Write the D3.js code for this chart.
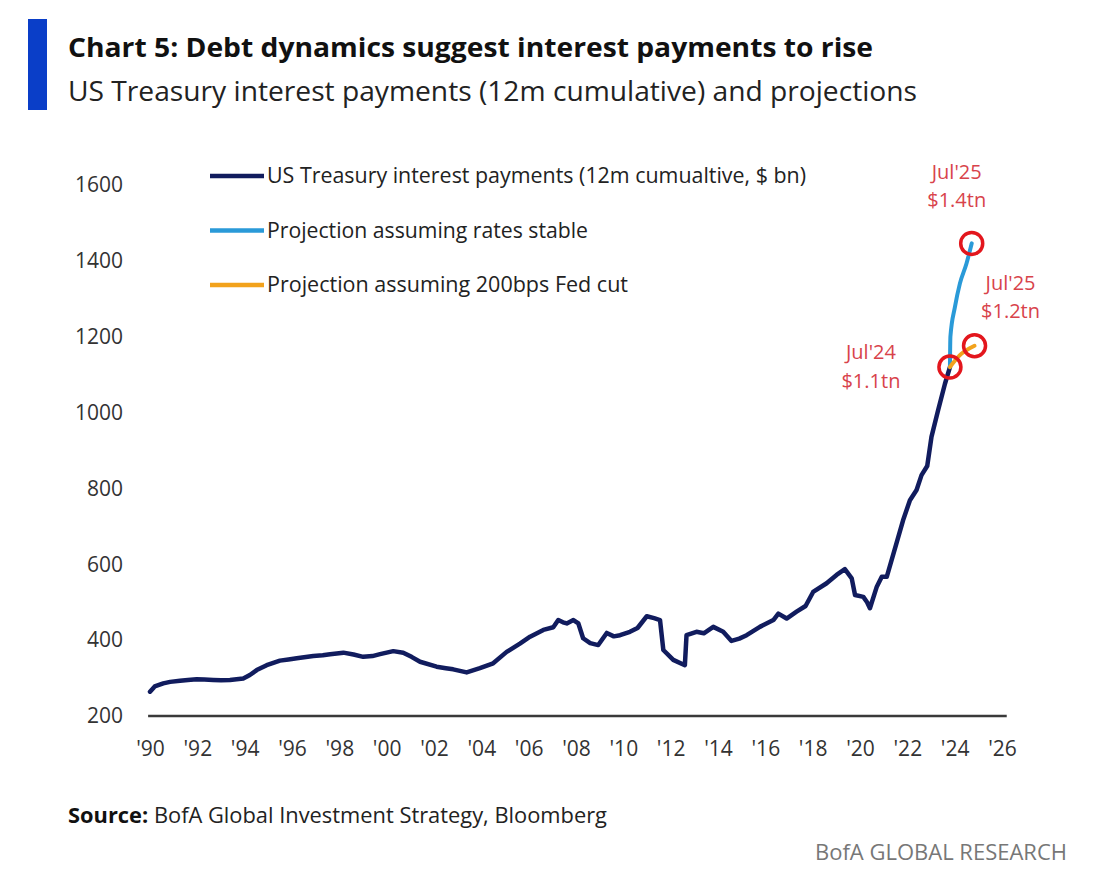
<!DOCTYPE html>
<html>
<head>
<meta charset="utf-8">
<script src="https://cdn.jsdelivr.net/npm/d3@7"></script>
<style>
  html, body { margin: 0; padding: 0; background: #ffffff; }
  svg { display: block; }
  text { font-family: "Open Sans", "DejaVu Sans", sans-serif; }
</style>
</head>
<body>
<svg id="chart" width="1100" height="888"></svg>
<script>
// ---------------- DATA ----------------
const titleText = "Chart 5: Debt dynamics suggest interest payments to rise";
const subtitleText = "US Treasury interest payments (12m cumulative) and projections";
const sourceBold = "Source:";
const sourceRest = " BofA Global Investment Strategy, Bloomberg";
const brandText = "BofA GLOBAL RESEARCH";

const seriesNames = [
  "US Treasury interest payments (12m cumualtive, $ bn)",
  "Projection assuming rates stable",
  "Projection assuming 200bps Fed cut"
];
const seriesColors = ["#111c5e", "#2a9ad8", "#f2a21c"];

// Historical series (decimal year, $ bn)
const histYears = [
  1990.0, 1990.2, 1990.56, 1990.85, 1991.27, 1991.6, 1991.97, 1992.3, 1992.67, 1993.0, 1993.38, 1993.94,
  1994.22, 1994.51, 1994.93, 1995.49, 1995.85, 1996.2, 1996.9, 1997.3, 1997.61, 1998.17, 1998.6, 1999.01,
  1999.4, 1999.72, 2000.28, 2000.7, 2001.05, 2001.41, 2002.11, 2002.5, 2002.81, 2003.38, 2003.94, 2004.5,
  2005.07, 2005.63, 2006.06, 2006.62, 2007.04, 2007.25, 2007.45, 2007.61, 2007.89, 2008.1, 2008.3, 2008.6,
  2008.94, 2009.3, 2009.6, 2009.86, 2010.28, 2010.6, 2010.99, 2011.3, 2011.55, 2011.69, 2012.11, 2012.6,
  2012.67, 2013.09, 2013.4, 2013.8, 2014.22, 2014.57, 2014.9, 2015.21, 2015.77, 2016.34, 2016.55, 2016.9,
  2017.32, 2017.7, 2018.02, 2018.59, 2019.01, 2019.36, 2019.65, 2019.79, 2020.14, 2020.3, 2020.42, 2020.71,
  2020.92, 2021.13, 2021.54, 2021.82, 2022.11, 2022.39, 2022.6, 2022.84, 2023.02, 2023.3, 2023.59, 2023.8
];
const histValues = [
  264, 278, 286, 290, 293, 295, 297, 296, 295, 294, 295, 299,
  308, 321, 334, 346, 349, 352, 358, 360, 363, 367, 362, 356,
  358, 363, 371, 367, 356, 343, 330, 326, 323, 315, 326, 339,
  369, 391, 409, 427, 434, 453, 447, 444, 453, 444, 405, 392,
  387, 419, 410, 413, 422, 432, 463, 458, 453, 374, 348, 334,
  413, 422, 418, 435, 422, 398, 404, 413, 435, 453, 470, 457,
  475, 490, 527, 550, 572, 587, 563, 519, 514, 500, 484, 541,
  567, 567, 655, 716, 769, 796, 835, 859, 936, 1006, 1076, 1120
];

// Projection: rates stable
const stableYears = [2023.8, 2023.82, 2024.01, 2024.22, 2024.5, 2024.72];
const stableValues = [1120, 1200, 1278, 1340, 1393, 1446];

// Projection: 200bps Fed cut
const cutYears = [2023.8, 2024.2, 2024.84];
const cutValues = [1120, 1150, 1176];

// Highlighted points & labels
const annoYears = [2023.8, 2024.72, 2024.84];
const annoValues = [1120, 1446, 1176];
const annoLabels = [["Jul'24", "$1.1tn"], ["Jul'25", "$1.4tn"], ["Jul'25", "$1.2tn"]];

// Axis ticks
const xTickYears = [1990, 1992, 1994, 1996, 1998, 2000, 2002, 2004, 2006, 2008, 2010, 2012, 2014, 2016, 2018, 2020, 2022, 2024, 2026];
const yTickValues = [200, 400, 600, 800, 1000, 1200, 1400, 1600];

// ---------------- CHART ----------------
const svg = d3.select("#chart");

const x = d3.scaleLinear().domain([1990, 2026]).range([150, 1002]);
const y = d3.scaleLinear().domain([200, 1600]).range([716, 185]);

// Header
svg.append("rect").attr("x", 28).attr("y", 19).attr("width", 19).attr("height", 91).attr("fill", "#0a3ec8");
svg.append("text").attr("x", 68).attr("y", 57)
  .attr("font-size", 27).attr("font-weight", 700).attr("fill", "#111")
  .attr("textLength", 805).attr("lengthAdjust", "spacingAndGlyphs")
  .text(titleText);
svg.append("text").attr("x", 68).attr("y", 101)
  .attr("font-size", 28).attr("fill", "#222")
  .attr("textLength", 849).attr("lengthAdjust", "spacingAndGlyphs")
  .text(subtitleText);

// Y axis (labels only)
const yAxis = svg.append("g").attr("transform", "translate(126,0)")
  .call(d3.axisLeft(y).tickValues(yTickValues).tickSize(0).tickPadding(3).tickFormat(d3.format("d")));
yAxis.select(".domain").remove();
yAxis.selectAll("text").attr("font-size", 21).attr("fill", "#333").attr("font-family", "Open Sans, sans-serif");

// X axis
const xAxis = svg.append("g").attr("transform", `translate(0,${y(200)})`)
  .call(d3.axisBottom(x).tickValues(xTickYears).tickSize(0).tickPadding(25)
    .tickFormat(d => "'" + String(d % 100).padStart(2, "0")));
xAxis.select(".domain").remove();
xAxis.selectAll("text").attr("font-size", 21).attr("fill", "#333").attr("font-family", "Open Sans, sans-serif");

// Baseline
svg.append("line")
  .attr("x1", x(1989.92)).attr("x2", x(2026.2))
  .attr("y1", y(200)).attr("y2", y(200))
  .attr("stroke", "#3a3a3a").attr("stroke-width", 2.5);

// Lines
const line = d3.line().x(d => x(d[0])).y(d => y(d[1]));
const histData = histYears.map((t, i) => [t, histValues[i]]);
const stableData = stableYears.map((t, i) => [t, stableValues[i]]);
const cutData = cutYears.map((t, i) => [t, cutValues[i]]);

svg.append("path").datum(histData).attr("d", line)
  .attr("fill", "none").attr("stroke", seriesColors[0]).attr("stroke-width", 4.5)
  .attr("stroke-linejoin", "round").attr("stroke-linecap", "round");
svg.append("path").datum(stableData).attr("d", line.curve(d3.curveMonotoneX))
  .attr("fill", "none").attr("stroke", seriesColors[1]).attr("stroke-width", 4)
  .attr("stroke-linejoin", "round").attr("stroke-linecap", "round");
svg.append("path").datum(cutData).attr("d", line.curve(d3.curveMonotoneX))
  .attr("fill", "none").attr("stroke", seriesColors[2]).attr("stroke-width", 4)
  .attr("stroke-linejoin", "round").attr("stroke-linecap", "round");

// Circles
svg.selectAll("circle.anno").data(annoYears).enter().append("circle")
  .attr("class", "anno")
  .attr("cx", (d) => x(d)).attr("cy", (d, i) => y(annoValues[i]))
  .attr("r", 11).attr("fill", "none").attr("stroke", "#e3161d").attr("stroke-width", 3.5);

// Annotation labels
const annoOffsets = [[-79, -8, 21], [-15, -64, -36], [36, -56, -28]];
annoLabels.forEach((lab, i) => {
  const cx = x(annoYears[i]), cy = y(annoValues[i]);
  const o = annoOffsets[i];
  lab.forEach((s, j) => {
    svg.append("text").attr("x", cx + o[0]).attr("y", cy + o[1 + j])
      .attr("text-anchor", "middle").attr("font-size", 20).attr("fill", "#d8434b")
      .text(s);
  });
});

// Legend
const legendLens = [539, 321, 361];
const legend = svg.append("g");
seriesNames.forEach((name, i) => {
  const ly = 176 + i * 54.5;
  legend.append("line").attr("x1", 210).attr("x2", 264).attr("y1", ly).attr("y2", ly)
    .attr("stroke", seriesColors[i]).attr("stroke-width", 4.5);
  legend.append("text").attr("x", 267).attr("y", ly + 7)
    .attr("font-size", 21).attr("fill", "#222")
    .attr("textLength", legendLens[i]).attr("lengthAdjust", "spacingAndGlyphs")
    .text(name);
});

// Source
const src = svg.append("text").attr("x", 68).attr("y", 823)
  .attr("font-size", 21).attr("fill", "#222")
  .attr("textLength", 539).attr("lengthAdjust", "spacingAndGlyphs");
src.append("tspan").attr("font-weight", 700).attr("fill", "#111").text(sourceBold);
src.append("tspan").text(sourceRest);

svg.append("text").attr("x", 1067).attr("y", 860).attr("text-anchor", "end")
  .attr("font-size", 22).attr("fill", "#777")
  .attr("textLength", 252).attr("lengthAdjust", "spacingAndGlyphs")
  .text(brandText);
</script>
</body>
</html>
